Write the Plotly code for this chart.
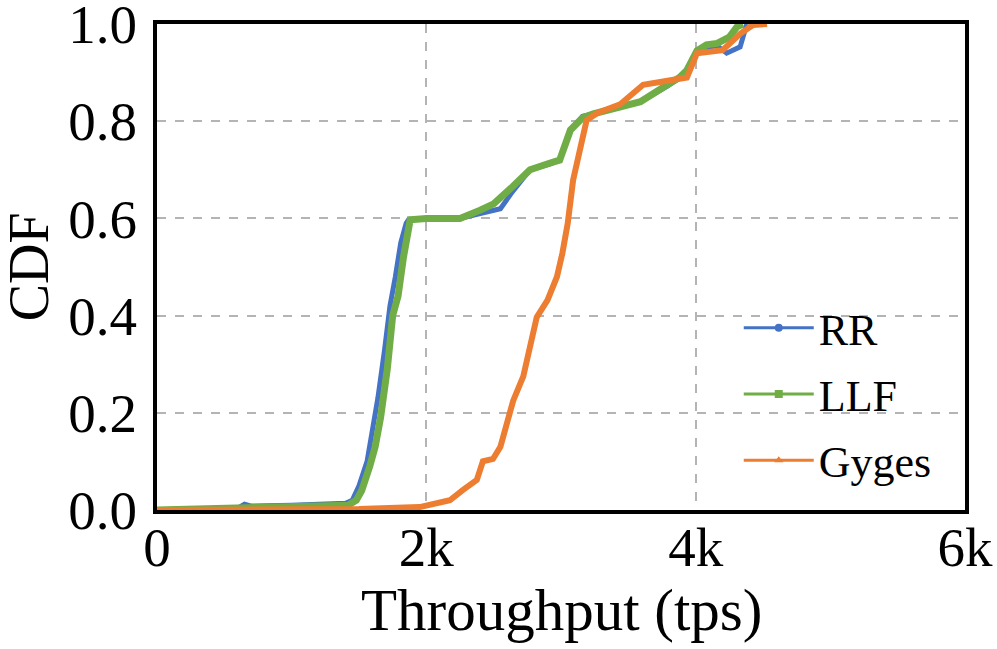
import plotly.graph_objects as go

# CDF of throughput (tps)
rr_x = [0, 600, 650, 700, 1000, 1400, 1450, 1500, 1560, 1600, 1640, 1690, 1730, 1770,
        1810, 1850, 1870, 2000, 2250, 2400, 2550, 2640, 2770, 2920, 2990, 3070, 3160,
        3240, 3440, 3590, 3790, 3880, 3935, 4010, 4080, 4160, 4230, 4330, 4380]
rr_y = [0, 0.004, 0.012, 0.008, 0.01, 0.014, 0.02, 0.05, 0.10, 0.16, 0.23, 0.33, 0.42, 0.48,
        0.55, 0.59, 0.598, 0.598, 0.60, 0.61, 0.62, 0.655, 0.70, 0.712, 0.72, 0.78, 0.81,
        0.815, 0.83, 0.84, 0.872, 0.888, 0.9, 0.94, 0.952, 0.955, 0.94, 0.953, 1.0]

llf_x = [0, 500, 1000, 1420, 1480, 1520, 1580, 1620, 1660, 1710, 1750, 1790, 1830, 1860,
         1880, 2000, 2250, 2400, 2500, 2640, 2770, 2920, 2990, 3070, 3160, 3240, 3440,
         3590, 3790, 3880, 3935, 4010, 4080, 4160, 4250, 4306, 4350]
llf_y = [0, 0.003, 0.006, 0.01, 0.02, 0.04, 0.09, 0.13, 0.19, 0.29, 0.40, 0.44, 0.52, 0.57,
         0.597, 0.60, 0.60, 0.617, 0.63, 0.665, 0.70, 0.714, 0.72, 0.782, 0.807, 0.815, 0.83,
         0.84, 0.875, 0.89, 0.905, 0.945, 0.957, 0.96, 0.973, 0.994, 1.0]

gyges_x = [0, 1000, 1500, 1950, 2080, 2175, 2270, 2375, 2420, 2495, 2550, 2600, 2645, 2720,
           2760, 2820, 2900, 2970, 3010, 3050, 3090, 3140, 3190, 3270, 3440, 3610, 3880,
           3935, 4010, 4105, 4200, 4330, 4425, 4530]
gyges_y = [0, 0.001, 0.002, 0.006, 0.014, 0.02, 0.041, 0.062, 0.1, 0.105, 0.13, 0.18, 0.225,
           0.275, 0.32, 0.397, 0.432, 0.48, 0.528, 0.59, 0.679, 0.747, 0.802, 0.817, 0.835,
           0.875, 0.885, 0.89, 0.94, 0.942, 0.946, 0.98, 0.998, 1.0]

x_ticks = [0, 2000, 4000, 6000]
x_tick_labels = ["0", "2k", "4k", "6k"]
y_ticks = [0, 0.2, 0.4, 0.6, 0.8, 1.0]
y_tick_labels = ["0.0", "0.2", "0.4", "0.6", "0.8", "1.0"]

series = [
    ("RR", rr_x, rr_y, "#4472C4", 5, "circle"),
    ("LLF", llf_x, llf_y, "#70AD47", 7, "square"),
    ("Gyges", gyges_x, gyges_y, "#ED7D31", 6, "triangle-up"),
]

fig = go.Figure()
for name, xs, ys, color, width, symbol in series:
    fig.add_trace(go.Scatter(
        x=xs, y=ys, mode="lines", showlegend=False,
        line=dict(color=color, width=width),
    ))
# legend entries with thin line + marker, as in the original
for name, xs, ys, color, width, symbol in series:
    fig.add_trace(go.Scatter(
        x=[None], y=[None], mode="lines+markers", name=name, legendgroup=name,
        line=dict(color=color, width=3),
        marker=dict(color=color, size=8, symbol=symbol),
    ))

serif = "Liberation Serif"
grid = dict(
    showline=True, linecolor="black", linewidth=4, mirror=True,
    showgrid=True, gridcolor="#b4b4b4", griddash="dash", gridwidth=1.5,
    zeroline=False, ticks="", ticklabeloverflow="allow", automargin=False,
    tickfont=dict(family=serif, size=55),
)
fig.update_layout(
    width=997, height=649,
    margin=dict(l=157, r=32, t=24, b=139),
    plot_bgcolor="white",
    paper_bgcolor="white",
    font=dict(family=serif, size=54, color="black"),
    legend=dict(
        x=0.72, y=0.447, xanchor="left", yanchor="top",
        font=dict(family=serif, size=44), bgcolor="rgba(0,0,0,0)",
        itemwidth=70, traceorder="grouped", tracegroupgap=6,
    ),
    xaxis=dict(range=[0, 6000], tickvals=x_ticks, ticktext=x_tick_labels,
               ticklabelstandoff=-14, **grid),
    yaxis=dict(range=[0, 1.00001], tickvals=y_ticks, ticktext=y_tick_labels,
               ticklabelstandoff=5, **grid),
    annotations=[
        dict(text="Throughput (tps)", xref="paper", yref="paper", x=0.5, y=-0.205,
             xanchor="center", yanchor="middle", showarrow=False,
             font=dict(family=serif, size=59)),
        dict(text="CDF", xref="paper", yref="paper", x=-0.158, y=0.5, textangle=-90,
             xanchor="center", yanchor="middle", showarrow=False,
             font=dict(family=serif, size=56)),
    ],
)

fig.write_html("out.html", config={"displayModeBar": False},
               post_script="document.body.style.margin = '0';")
